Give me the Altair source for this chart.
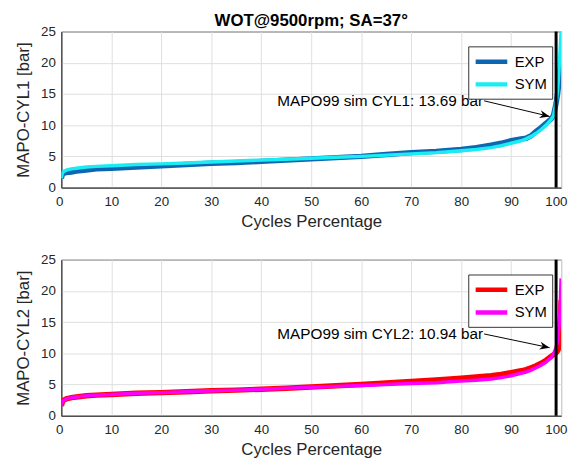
import altair as alt
import pandas as pd

# ---- data ----
pct = [0, 0.2, 0.5, 1, 2, 3, 5, 7, 10, 15, 20, 25, 30, 35, 40, 45, 50, 55, 60, 65,
       70, 75, 80, 83, 86, 88, 90, 92, 93, 94, 95, 96, 97, 98, 98.5, 99, 99.3, 99.6, 99.8, 100]

cyl1_exp = [1.5, 2.1, 2.3, 2.4, 2.5, 2.65, 2.8, 3.0, 3.1, 3.3, 3.5, 3.7, 3.9, 4.0, 4.2, 4.4,
            4.6, 4.8, 5.0, 5.3, 5.6, 5.8, 6.1, 6.4, 6.8, 7.1, 7.5, 7.8, 7.9, 8.3, 9.0, 9.6,
            10.3, 11.0, 11.6, 13.5, 15.0, 17.0, 18.5, 20.0]
cyl1_sym = [1.5, 2.3, 2.6, 2.8, 3.0, 3.1, 3.3, 3.4, 3.5, 3.7, 3.8, 3.95, 4.1, 4.25, 4.4, 4.55,
            4.7, 4.85, 5.0, 5.2, 5.4, 5.6, 5.9, 6.1, 6.4, 6.7, 7.1, 7.5, 7.8, 8.2, 8.7, 9.3,
            10.0, 10.9, 11.5, 13.69, 15.5, 19.0, 22.0, 25.0]
cyl2_exp = [1.6, 2.2, 2.5, 2.7, 2.9, 3.0, 3.2, 3.3, 3.4, 3.6, 3.7, 3.85, 4.0, 4.1, 4.25, 4.4,
            4.6, 4.8, 5.0, 5.25, 5.5, 5.75, 6.0, 6.2, 6.4, 6.6, 6.9, 7.2, 7.4, 7.7, 8.0, 8.4,
            8.9, 9.5, 9.8, 10.1, 10.4, 11.0, 13.0, 18.5]
cyl2_sym = [1.6, 2.3, 2.5, 2.7, 2.9, 3.0, 3.2, 3.3, 3.4, 3.6, 3.7, 3.85, 4.0, 4.1, 4.25, 4.4,
            4.55, 4.7, 4.85, 5.0, 5.15, 5.3, 5.55, 5.7, 5.9, 6.1, 6.4, 6.8, 7.0, 7.3, 7.7, 8.1,
            8.6, 9.3, 9.9, 10.94, 12.0, 14.5, 17.0, 22.0]

series = ["EXP", "SYM"]
x_ticks = [0, 10, 20, 30, 40, 50, 60, 70, 80, 90, 100]
y_ticks = [0, 5, 10, 15, 20, 25]
mapo_line = [99]
notes = ["MAPO99 sim CYL1: 13.69 bar", "MAPO99 sim CYL2: 10.94 bar"]
note_xy = [(84.6, 13.9), (84.6, 13.1)]
arrow_tip = [(97.7, 11.4), (97.7, 10.9)]
arrow_angle = [13.5, 12.0]

FONT = "Liberation Sans"
TXT = "#262626"


def panel(exp, sym, colors, ylabel, note, nxy, tip, ang, title=None):
    df = pd.DataFrame({
        "pct": pct * 2,
        "val": exp + sym,
        "series": ["EXP"] * len(pct) + ["SYM"] * len(pct),
    })
    xs = alt.Scale(domain=[0, 100], nice=False)
    ys = alt.Scale(domain=[0, 25], nice=False)
    xa = alt.Axis(values=x_ticks, title="Cycles Percentage", tickCount=11,
                  labelFlush=True, labelFlushOffset=6)
    ya = alt.Axis(values=y_ticks, title=ylabel, tickCount=6, labelFlush=False)

    def X(f):
        return alt.X(f, scale=xs, axis=xa)

    def Y(f):
        return alt.Y(f, scale=ys, axis=ya)

    color = alt.Color("series:N",
                      scale=alt.Scale(domain=series, range=colors),
                      legend=alt.Legend(title=None, orient="none", legendX=412, legendY=15,
                                        symbolType="M-1,0H3", symbolSize=256,
                                        symbolStrokeWidth=4.5, labelFontSize=15,
                                        labelOffset=21, labelFont=FONT, labelColor="#000",
                                        padding=5, rowPadding=3,
                                        strokeColor="#333", fillColor="white"))
    base = alt.Chart(df)
    l_exp = base.transform_filter(alt.datum.series == "EXP").mark_line(
        strokeWidth=5.5, clip=True).encode(x=X("pct:Q"), y=Y("val:Q"), color=color)
    l_sym = base.transform_filter(alt.datum.series == "SYM").mark_line(
        strokeWidth=3.5, clip=True).encode(x=X("pct:Q"), y=Y("val:Q"), color=color)

    vdf = pd.DataFrame({"x": mapo_line})
    vline = alt.Chart(vdf).mark_rule(color="black", strokeWidth=3).encode(x=X("x:Q"))

    adf = pd.DataFrame({"x": [nxy[0]], "y": [nxy[1]], "x2": [tip[0]], "y2": [tip[1]],
                        "t": [note]})
    txt = alt.Chart(adf).mark_text(align="right", baseline="middle", fontSize=15.5,
                                   font=FONT, color="black", dx=-1).encode(
        x=X("x:Q"), y=Y("y:Q"), text="t:N")
    arr = alt.Chart(adf).mark_rule(color="black", strokeWidth=1).encode(
        x=X("x:Q"), y=Y("y:Q"), x2="x2:Q", y2="y2:Q")
    head = alt.Chart(adf).mark_point(
        shape="M0,0L-2,-0.8L-1.4,0L-2,0.8Z", filled=True, color="black", opacity=1,
        size=100, angle=ang).encode(x=X("x2:Q"), y=Y("y2:Q"))

    ch = alt.layer(l_exp, l_sym, vline, arr, head, txt).properties(width=506, height=158)
    if title:
        ch = ch.properties(title=alt.TitleParams(title, fontSize=17, font=FONT,
                                                 fontWeight="bold", color="#000",
                                                 anchor="middle", offset=-5))
    return ch


top = panel(cyl1_exp, cyl1_sym, ["#0e66b3", "#19ecf2"], "MAPO-CYL1 [bar]",
            notes[0], note_xy[0], arrow_tip[0], arrow_angle[0],
            title="WOT@9500rpm; SA=37°")
bot = panel(cyl2_exp, cyl2_sym, ["#ff0000", "#ff00ff"], "MAPO-CYL2 [bar]",
            notes[1], note_xy[1], arrow_tip[1], arrow_angle[1])

chart = alt.vconcat(top, bot, spacing=73, bounds="flush").resolve_scale(
    color="independent"
).resolve_legend(color="independent").properties(
    padding={"left": 6, "top": 0, "right": 0, "bottom": 0}
).configure_axis(
    labelFont=FONT, titleFont=FONT, labelFontSize=13.5, titleFontSize=17,
    labelColor=TXT, titleColor=TXT, titleFontWeight="normal",
    domainColor=TXT, grid=True, gridColor="#dedede", gridWidth=1,
    ticks=False, labelOverlap=False,
).configure_axisY(titlePadding=8, labelPadding=6).configure_axisX(
    titlePadding=6, labelPadding=7
).configure_view(
    stroke=TXT, strokeWidth=1
)

chart.save("out.html", embed_options={"renderer": "svg", "actions": False})
